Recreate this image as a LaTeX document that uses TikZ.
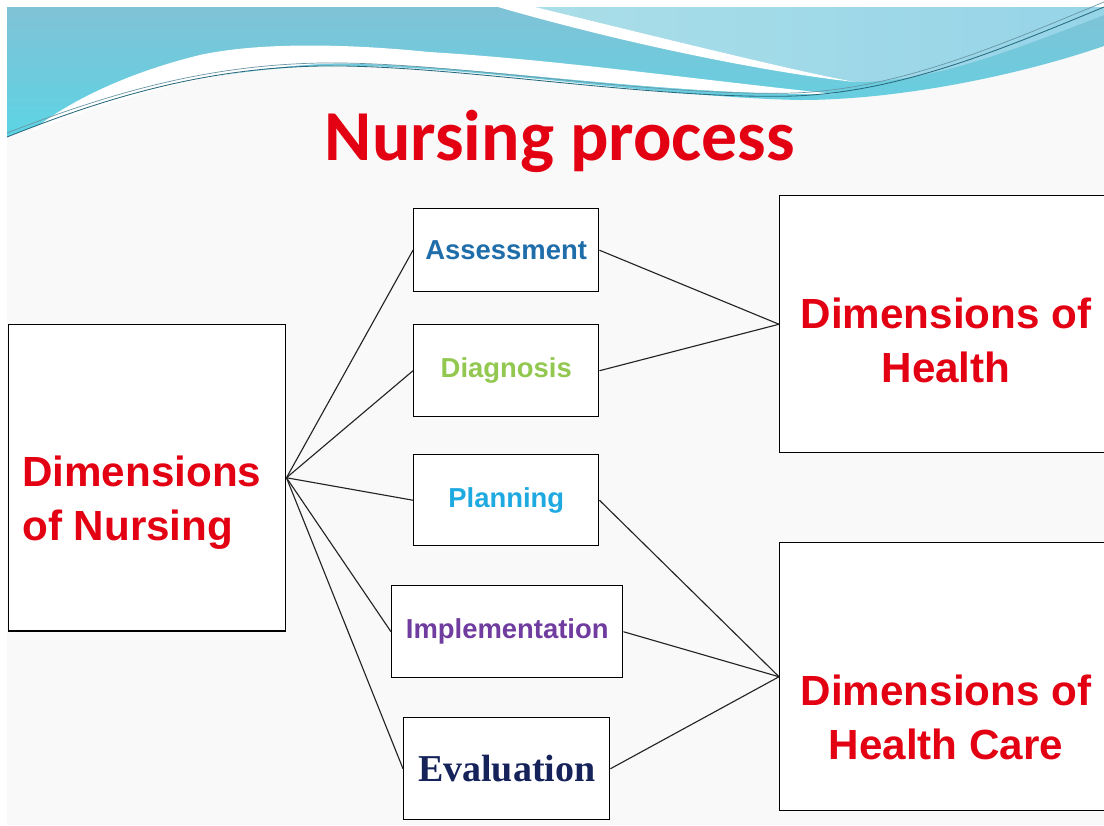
\documentclass[tikz,border=0pt]{standalone}
\usepackage{fontspec}
\setmainfont{Liberation Sans}
\newfontfamily\titlefont{Carlito}
\newfontfamily\evalfont{Liberation Serif}
\usetikzlibrary{calc}
\definecolor{rouge}{RGB}{226,0,18}
\definecolor{assesscol}{RGB}{31,110,170}
\definecolor{diagcol}{RGB}{146,200,80}
\definecolor{plancol}{RGB}{30,170,225}
\definecolor{implcol}{RGB}{112,60,160}
\definecolor{evalcol}{RGB}{22,34,90}
\definecolor{fond}{RGB}{249,249,249}
\definecolor{ligne}{RGB}{40,105,125}
\tikzstyle{etape} = [rectangle, draw=black, fill=white, line width=1pt, inner sep=0pt, anchor=north west, font=\bfseries\fontsize{19.5}{23}\selectfont]
\tikzstyle{bloc} = [rectangle, draw=black, fill=white, line width=1pt, inner sep=0pt, anchor=north west]
\tikzstyle{texte} = [inner sep=0pt, text=rouge, font=\bfseries\fontsize{30}{38}\selectfont]
\tikzstyle{lien} = [line width=0.8pt, draw={rgb,255:red,35;green,35;blue,35}]

\begin{document}
\begin{tikzpicture}[x=0.025cm, y=-0.025cm]

        \useasboundingbox (0,0) rectangle (1104,825);
        \fill[white] (0,0) rectangle (1104,825);
        \fill[fond] (7,7) rectangle (1104,825);

        % bandeau du haut
        \shade[top color={rgb,255:red,128;green,194;blue,214}, bottom color={rgb,255:red,92;green,212;blue,228}]
            (7,7) -- (1104,7) -- (1104,46)
            .. controls (1020,75) and (900,100) .. (800,100)
            .. controls (650,97) and (450,62) .. (321,66)
            .. controls (200,70) and (100,100) .. (7,137) -- cycle;
        \shade[left color={rgb,255:red,170;green,222;blue,232}, right color={rgb,255:red,150;green,212;blue,232}]
            (535,7) -- (1104,7) -- (1104,15)
            .. controls (1000,55) and (930,82) .. (855,82)
            .. controls (790,70) and (650,35) .. (535,7) -- cycle;
        \fill[white] (535,7) .. controls (650,35) and (790,70) .. (855,82)
            .. controls (780,74) and (640,48) .. (498,7) -- cycle;
        \fill[white] (30,132) .. controls (120,97) and (210,70) .. (321,64)
            .. controls (450,60) and (650,96) .. (835,94)
            .. controls (700,80) and (560,60) .. (429,52)
            .. controls (330,42) and (250,44) .. (200,55)
            .. controls (130,72) and (70,100) .. (30,132) -- cycle;
        \draw[ligne, line width=0.6pt] (7,137) .. controls (100,100) and (200,68) .. (321,66)
            .. controls (450,64) and (650,100) .. (794,96) .. controls (900,92) and (1000,50) .. (1104,7);
        \draw[ligne!70, line width=0.5pt] (7,133) .. controls (100,97) and (200,65) .. (321,63)
            .. controls (450,61) and (650,97) .. (794,93) .. controls (900,89) and (1000,45) .. (1104,2);

        % titre
        \node (titre) [anchor=base, text=rouge, font=\titlefont\bfseries\fontsize{51}{60}\selectfont] at (560,160) {Nursing process};

        % blocs
        \node (nursing) [bloc, minimum width=6.925cm, minimum height=7.65cm] at (8,324) {};
        \node (health) [bloc, minimum width=8.5cm, minimum height=6.425cm] at (779,195) {};
        \node (care) [bloc, minimum width=8.5cm, minimum height=6.7cm] at (779,542) {};

        \node (nursingtxt) [texte, anchor=base west, align=left] at (22,540) {Dimensions\\of Nursing};
        \node (healthtxt) [texte, anchor=base, align=center] at (946,382) {Dimensions of\\Health};
        \node (caretxt) [texte, anchor=base, align=center] at (946,759) {Dimensions of\\Health Care};

        % etapes
        \node (assess) [etape, text=assesscol, minimum width=4.625cm, minimum height=2.075cm] at (413,208) {Assessment};
        \node (diag) [etape, text=diagcol, minimum width=4.625cm, minimum height=2.3cm] at (413,324) {Diagnosis};
        \node (plan) [etape, text=plancol, minimum width=4.625cm, minimum height=2.275cm] at (413,454) {Planning};
        \node (impl) [etape, text=implcol, minimum width=5.775cm, minimum height=2.3cm] at (391,585) {Implementation};
        \node (eval) [etape, text=evalcol, minimum width=5.15cm, minimum height=2.55cm, font=\evalfont\bfseries\fontsize{27}{30}\selectfont] at (403,717) {Evaluation};

        % liens
        \foreach \e in {assess, diag, plan, impl, eval}
            \draw[lien] (nursing.east) -- (\e.west);
        \draw[lien] (assess.east) -- (health.west);
        \draw[lien] (diag.east) -- (health.west);
        \draw[lien] (plan.east) -- (care.west);
        \draw[lien] (impl.east) -- (care.west);
        \draw[lien] (eval.east) -- (care.west);

    \end{tikzpicture}
\end{document}
